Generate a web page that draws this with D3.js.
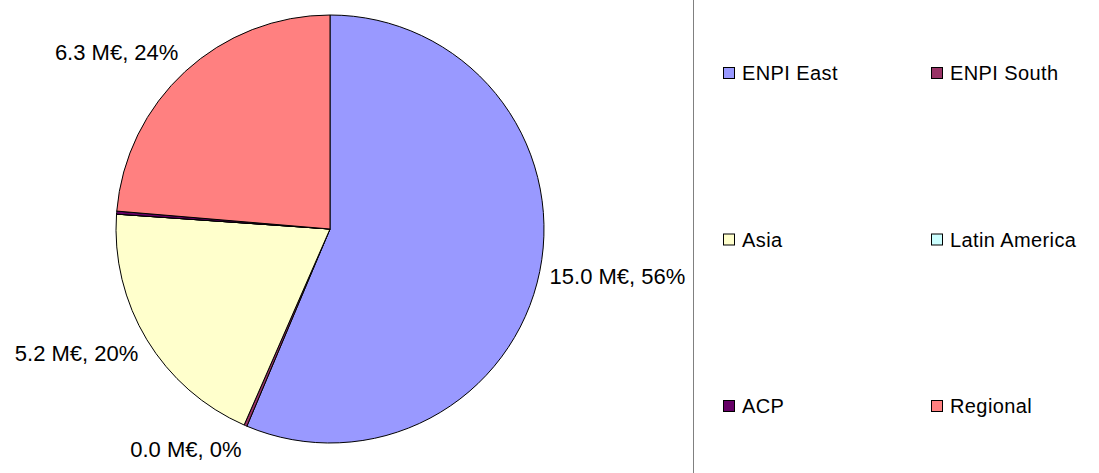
<!doctype html>
<html>
<head>
<meta charset="utf-8">
<script src="https://cdn.jsdelivr.net/npm/d3@7"></script>
<style>
  body { margin: 0; background: #fff; }
  svg { font-family: "Liberation Sans", Arial, sans-serif; }
</style>
</head>
<body>
<svg width="1099" height="473"></svg>
<script>
var regions = ["ENPI East", "ENPI South", "Asia", "Latin America", "ACP", "Regional"];
var amounts = [15.0, 0.06, 5.2, 0.0, 0.06, 6.3];
var colors = ["#9999ff", "#993366", "#ffffcc", "#ccffff", "#660066", "#ff8080"];
var labelTexts = ["15.0 M€, 56%", "0.0 M€, 0%", "5.2 M€, 20%", "", "", "6.3 M€, 24%"];

var svg = d3.select("svg");
var cx = 330, cy = 229, r = 214;

var data = regions.map(function(name, i) {
  return { name: name, value: amounts[i], color: colors[i], label: labelTexts[i] };
});

var pie = d3.pie().sort(null).value(function(d) { return d.value; });
var arc = d3.arc().innerRadius(0).outerRadius(r);
var arcs = pie(data);

var g = svg.append("g").attr("transform", "translate(" + cx + "," + cy + ")");

g.selectAll("path.slice")
  .data(arcs)
  .enter()
  .append("path")
  .attr("class", "slice")
  .attr("d", arc)
  .attr("fill", function(d) { return d.data.color; })
  .attr("stroke", "#000")
  .attr("stroke-width", 1);

function mid(d) { return (d.startAngle + d.endAngle) / 2; }

// labels outside the pie, pushed away vertically like Excel does
g.selectAll("text.lbl")
  .data(arcs.filter(function(d) { return d.data.label; }))
  .enter()
  .append("text")
  .attr("class", "lbl")
  .attr("x", function(d) { return Math.sin(mid(d)) * (r + 10); })
  .attr("y", function(d) {
    var a = mid(d);
    return -Math.cos(a) * (r + 10) - Math.cos(a) * 16;
  })
  .attr("dy", "0.36em")
  .attr("text-anchor", function(d) { return mid(d) < Math.PI ? "start" : "end"; })
  .style("font-size", "22px")
  .text(function(d) { return d.data.label; });

// divider
svg.append("line")
  .attr("x1", 693.5).attr("x2", 693.5)
  .attr("y1", 0).attr("y2", 473)
  .attr("stroke", "#808080")
  .attr("stroke-width", 1);

// legend, two columns
var colX = d3.scalePoint().domain([0, 1]).range([723, 931]);
var rowY = d3.scalePoint().domain([0, 1, 2]).range([73, 406]);

var leg = svg.selectAll("g.leg")
  .data(data)
  .enter()
  .append("g")
  .attr("class", "leg")
  .attr("transform", function(d, i) {
    return "translate(" + colX(i % 2) + "," + rowY(Math.floor(i / 2)) + ")";
  });

leg.append("rect")
  .attr("x", 0.5).attr("y", -5.5)
  .attr("width", 11).attr("height", 11)
  .attr("fill", function(d) { return d.color; })
  .attr("stroke", "#000")
  .attr("stroke-width", 1);

leg.append("text")
  .attr("x", 19)
  .attr("y", 0)
  .attr("dy", "0.36em")
  .style("font-size", "20px")
  .style("letter-spacing", "0.4px")
  .text(function(d) { return d.name; });
</script>
</body>
</html>
